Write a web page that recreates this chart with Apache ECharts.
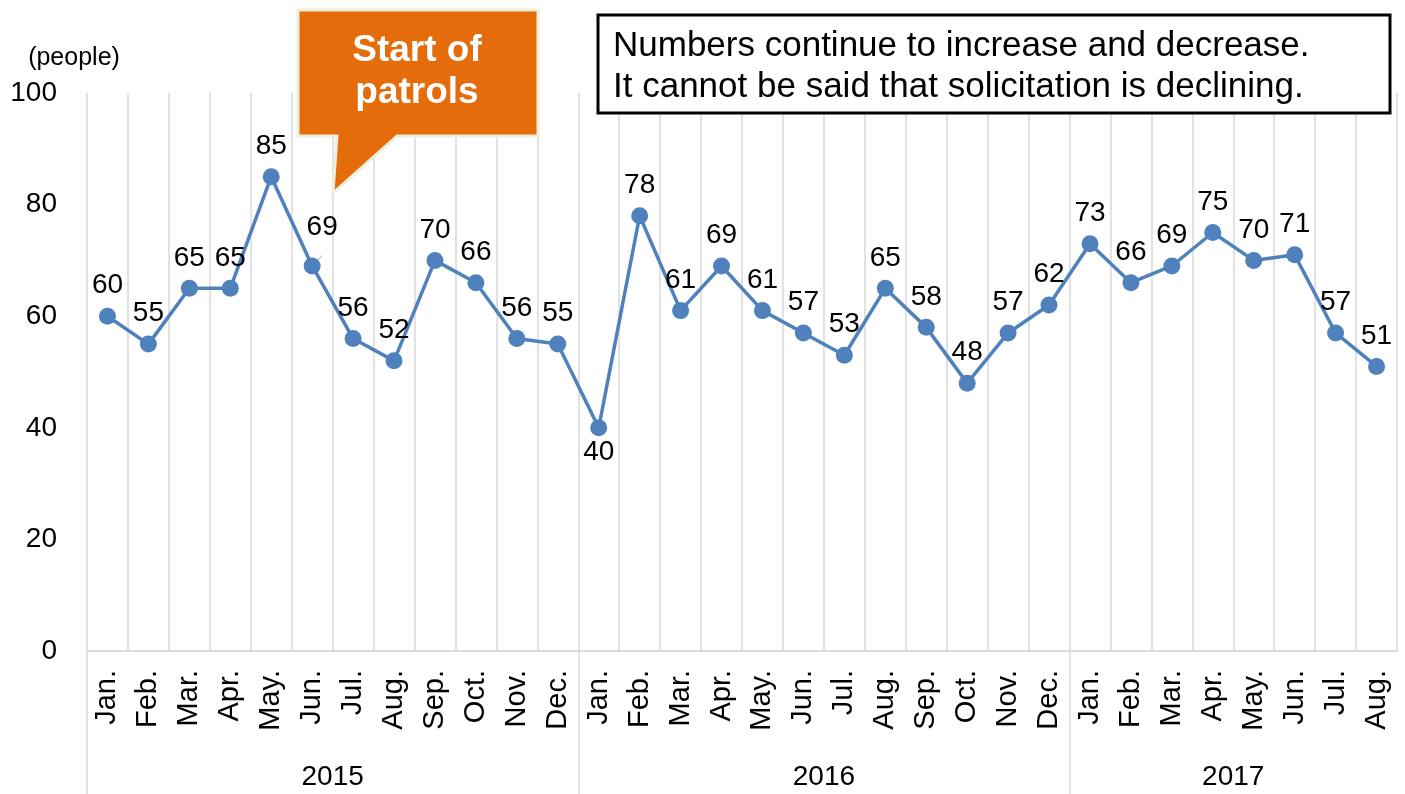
<!DOCTYPE html>
<html>
<head>
<meta charset="utf-8">
<script src="https://cdn.jsdelivr.net/npm/echarts@6/dist/echarts.min.js"></script>
<style>
  html, body { margin: 0; padding: 0; background: #fff; }
  #chart { width: 1405px; height: 794px; }
</style>
</head>
<body>
<div id="chart"></div>
<script>
// monthly counts, Jan 2015 - Aug 2017
const months = ['Jan.', 'Feb.', 'Mar.', 'Apr.', 'May.', 'Jun.', 'Jul.', 'Aug.', 'Sep.', 'Oct.', 'Nov.', 'Dec.',
    'Jan.', 'Feb.', 'Mar.', 'Apr.', 'May.', 'Jun.', 'Jul.', 'Aug.', 'Sep.', 'Oct.', 'Nov.', 'Dec.',
    'Jan.', 'Feb.', 'Mar.', 'Apr.', 'May.', 'Jun.', 'Jul.', 'Aug.'];
const counts = [60, 55, 65, 65, 85, 69, 56, 52, 70, 66, 56, 55,
    40, 78, 61, 69, 61, 57, 53, 65, 58, 48, 57, 62,
    73, 66, 69, 75, 70, 71, 57, 51];
const years = ['2015', '2016', '2017'];
const yearStarts = [0, 12, 24];     // index where each year begins
const yearCenters = [6, 18, 28];    // middle of each year's span
const yTicks = [0, 20, 40, 60, 80, 100];

const FONT = 'Liberation Sans';
const chart = echarts.init(document.getElementById('chart'));

// point data, with a couple of label tweaks
const pointData = counts.map((v, i) => {
    if (i === 12) {
        return { value: v, label: { position: 'bottom', distance: 2 } };
    }
    if (i === 5) {
        return {
            value: v,
            label: { offset: [10, -8] },
            labelLine: { show: true, lineStyle: { color: '#a6a6a6', width: 1 } }
        };
    }
    return v;
});

const option = {
    animation: false,
    grid: { left: 87, right: 8, top: 93, bottom: 143, containLabel: false },
    xAxis: [
        {
            type: 'category',
            data: months,
            boundaryGap: true,
            axisLine: { lineStyle: { color: '#d9d9d9', width: 2 } },
            axisTick: { show: false },
            axisLabel: {
                interval: 0,
                rotate: 90,
                margin: 19,
                fontFamily: FONT,
                fontSize: 29,
                color: '#000'
            },
            splitLine: { show: true, interval: 0, lineStyle: { color: '#d9d9d9', width: 1.5 } }
        },
        {
            // year band underneath the months
            type: 'value',
            min: 0,
            max: 32,
            position: 'bottom',
            axisLine: { show: false },
            splitLine: { show: false },
            axisTick: {
                show: true,
                customValues: yearStarts,
                length: 143,
                lineStyle: { color: '#d9d9d9', width: 1.5 }
            },
            axisLabel: {
                customValues: yearCenters,
                margin: 112,
                fontFamily: FONT,
                fontSize: 28,
                color: '#000',
                formatter: v => years[yearCenters.indexOf(v)]
            }
        }
    ],
    yAxis: {
        type: 'value',
        min: yTicks[0],
        max: yTicks[yTicks.length - 1],
        interval: 20,
        name: '(people)',
        nameLocation: 'end',
        nameGap: 22,
        nameTextStyle: {
            fontFamily: FONT,
            fontSize: 25,
            color: '#000',
            padding: [0, 26, 0, 0]
        },
        axisLine: { show: false },
        axisTick: { show: false },
        splitLine: { show: false },
        axisLabel: {
            margin: 30,
            fontFamily: FONT,
            fontSize: 28,
            color: '#000'
        }
    },
    series: [{
        type: 'line',
        xAxisIndex: 0,
        data: pointData,
        symbol: 'circle',
        symbolSize: 17,
        lineStyle: { color: '#4f81bd', width: 3.5 },
        itemStyle: { color: '#4f81bd' },
        label: {
            show: true,
            position: 'top',
            distance: 8,
            fontFamily: FONT,
            fontSize: 28,
            color: '#000'
        }
    }],
    graphic: [
        {
            // callout bubble
            type: 'polygon',
            shape: {
                points: [[298, 10], [538, 10], [538, 136], [397, 136], [333, 193], [337, 136], [298, 136]]
            },
            style: { fill: '#e46c0a', stroke: '#eeeedd', lineWidth: 3 },
            z: 10
        },
        {
            type: 'text',
            x: 417,
            y: 72,
            style: {
                text: 'Start of\npatrols',
                fill: '#fff',
                font: 'bold 37px "Liberation Sans"',
                lineHeight: 42,
                align: 'center',
                verticalAlign: 'middle'
            },
            z: 11
        },
        {
            // note box
            type: 'rect',
            shape: { x: 598, y: 15, width: 792, height: 98 },
            style: { fill: '#fff', stroke: '#000', lineWidth: 3 },
            z: 10
        },
        {
            type: 'text',
            x: 613,
            y: 67,
            style: {
                text: 'Numbers continue to increase and decrease.\nIt cannot be said that solicitation is declining.',
                fill: '#000',
                font: '35px "Liberation Sans"',
                lineHeight: 41,
                align: 'left',
                verticalAlign: 'middle'
            },
            z: 11
        }
    ]
};

chart.setOption(option);
</script>
</body>
</html>
